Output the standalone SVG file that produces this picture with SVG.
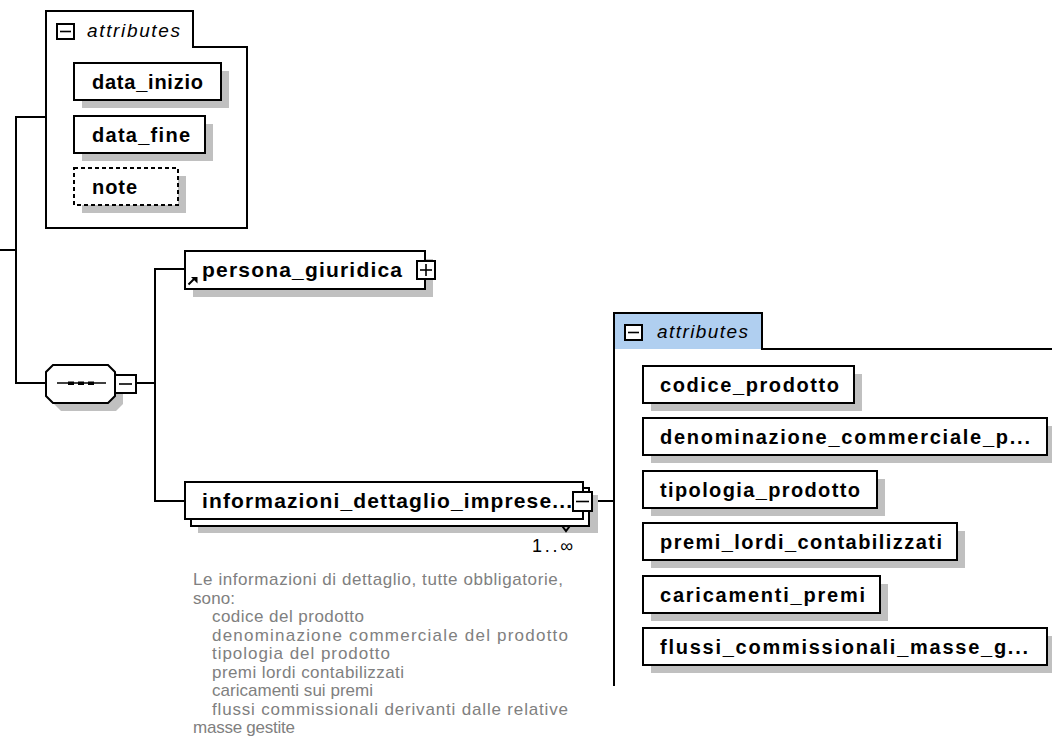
<svg xmlns="http://www.w3.org/2000/svg" width="1052" height="751" viewBox="0 0 1052 751">
<style>
.box{fill:#fff;stroke:#000;stroke-width:2}
.dash{fill:#fff;stroke:#000;stroke-width:2;stroke-dasharray:4,3}
.sh{fill:#c0c0c0;stroke:none}
.ln{fill:none;stroke:#000;stroke-width:2}
.lbl{font-family:"Liberation Sans",Arial,sans-serif;font-weight:bold;font-size:20px;fill:#000}
.el{font-family:"Liberation Sans",Arial,sans-serif;font-weight:bold;font-size:21px;fill:#000}
.tab{font-family:"Liberation Sans",Arial,sans-serif;font-style:italic;font-size:19px;fill:#000}
.desc{font-family:"Liberation Sans",Arial,sans-serif;font-size:17px;fill:#808080}
.occ{font-family:"Liberation Sans",Arial,sans-serif;font-size:18px;fill:#000}
</style>
<rect width="1052" height="751" fill="#fff"/>

<g id="connectors">
<polyline class="ln" points="0,250 16,250"/>
<polyline class="ln" points="46,117 16,117 16,383 46,383"/>
<polyline class="ln" points="136,383 155,383"/>
<polyline class="ln" points="185,269 155,269 155,501 185,501"/>
<polyline class="ln" points="592,501 614,501"/>
</g>

<g id="attributes-top">
<path class="box" d="M46,228 V11 H193 V47 H247 V228 Z"/>
<rect class="box" x="57" y="24" width="17" height="15" stroke-width="1.6"/>
<line x1="60" y1="31.5" x2="71" y2="31.5" stroke="#000" stroke-width="1.6"/>
<text class="tab" x="87" y="37" textLength="93">attributes</text>
</g>

<g id="data_inizio">
<rect class="sh" x="82" y="71" width="147" height="37"/>
<rect class="box" x="74" y="63" width="147" height="37"/>
<text class="lbl" x="92" y="89" textLength="111">data_inizio</text>
</g>
<g id="data_fine">
<rect class="sh" x="82" y="124" width="131" height="37"/>
<rect class="box" x="74" y="116" width="131" height="37"/>
<text class="lbl" x="92" y="142" textLength="98">data_fine</text>
</g>
<g id="note">
<rect class="sh" x="82" y="176" width="104" height="37"/>
<rect class="dash" x="74" y="168" width="104" height="37"/>
<text class="lbl" x="92" y="194" textLength="45">note</text>
</g>

<g id="sequence">
<polygon class="sh" points="61,373 116,373 123,380 123,404 116,411 61,411 54,404 54,380"/>
<polygon class="box" points="53,365 108,365 115,372 115,396 108,403 53,403 46,396 46,372"/>
<line x1="57" y1="383" x2="106" y2="383" stroke="#000" stroke-width="1.6"/>
<rect x="68" y="381.5" width="6" height="3.5" fill="#000"/>
<rect x="78" y="381.5" width="6" height="3.5" fill="#000"/>
<rect x="88" y="381.5" width="6" height="3.5" fill="#000"/>
<rect class="box" x="115" y="375" width="21" height="18" stroke-width="1.6"/>
<line x1="119" y1="384" x2="132" y2="384" stroke="#000" stroke-width="1.6"/>
</g>

<g id="persona_giuridica">
<rect class="sh" x="193" y="259" width="240" height="38"/>
<rect class="box" x="185" y="251" width="240" height="38"/>
<line x1="188.5" y1="284.5" x2="194" y2="279" stroke="#000" stroke-width="2"/>
<polygon points="191,277 197.5,277 197.5,283.5" fill="#000"/>
<text class="el" x="202" y="277" textLength="200">persona_giuridica</text>
<rect class="box" x="417" y="261" width="18" height="18" stroke-width="1.6"/>
<line x1="420" y1="270" x2="432" y2="270" stroke="#000" stroke-width="1.6"/>
<line x1="426" y1="264" x2="426" y2="276" stroke="#000" stroke-width="1.6"/>
</g>

<g id="informazioni_dettaglio_imprese">
<rect class="sh" x="198" y="495" width="400" height="38"/>
<polyline class="ln" points="557,519 566,531 575,519"/>
<rect class="box" x="191" y="488" width="398" height="38"/>
<rect class="box" x="185" y="482" width="398" height="37"/>
<text class="el" x="202" y="508" textLength="370">informazioni_dettaglio_imprese...</text>
<rect class="box" x="573" y="492" width="19" height="19" stroke-width="1.6"/>
<line x1="576" y1="501.5" x2="589" y2="501.5" stroke="#000" stroke-width="1.6"/>
<text class="occ" x="532" y="552" textLength="41">1..∞</text>
</g>

<g id="annotation">
<text class="desc" x="193" y="585" textLength="370">Le informazioni di dettaglio, tutte obbligatorie,</text>
<text class="desc" x="193" y="603.5" textLength="42">sono:</text>
<text class="desc" x="212" y="622" textLength="152">codice del prodotto</text>
<text class="desc" x="212" y="640.5" textLength="356">denominazione commerciale del prodotto</text>
<text class="desc" x="212" y="659" textLength="178">tipologia del prodotto</text>
<text class="desc" x="212" y="677.5" textLength="192">premi lordi contabilizzati</text>
<text class="desc" x="212" y="696" textLength="161">caricamenti sui premi</text>
<text class="desc" x="212" y="714.5" textLength="356">flussi commissionali derivanti dalle relative</text>
<text class="desc" x="193" y="733" textLength="102">masse gestite</text>
</g>

<g id="attributes-right">
<path d="M614,349 V313 H762 V349 Z" fill="#b0cff0"/>
<path class="ln" d="M614,686 V313 H762 V349 H1052"/>
<rect class="box" x="625" y="325" width="17" height="15" stroke-width="1.6"/>
<line x1="628" y1="332.5" x2="639" y2="332.5" stroke="#000" stroke-width="1.6"/>
<text class="tab" x="657" y="338" textLength="91">attributes</text>
</g>

<g id="codice_prodotto">
<rect class="sh" x="651" y="374" width="211" height="37"/>
<rect class="box" x="643" y="366" width="211" height="37"/>
<text class="lbl" x="660" y="392" textLength="179">codice_prodotto</text>
</g>
<g id="denominazione_commerciale_prodotto">
<rect class="sh" x="651" y="426" width="404" height="37"/>
<rect class="box" x="643" y="418" width="404" height="37"/>
<text class="lbl" x="660" y="444" textLength="370">denominazione_commerciale_p...</text>
</g>
<g id="tipologia_prodotto">
<rect class="sh" x="651" y="479" width="234" height="37"/>
<rect class="box" x="643" y="471" width="234" height="37"/>
<text class="lbl" x="660" y="497" textLength="200">tipologia_prodotto</text>
</g>
<g id="premi_lordi_contabilizzati">
<rect class="sh" x="651" y="531" width="314" height="37"/>
<rect class="box" x="643" y="523" width="314" height="37"/>
<text class="lbl" x="660" y="549" textLength="282">premi_lordi_contabilizzati</text>
</g>
<g id="caricamenti_premi">
<rect class="sh" x="651" y="584" width="237" height="37"/>
<rect class="box" x="643" y="576" width="237" height="37"/>
<text class="lbl" x="660" y="602" textLength="205">caricamenti_premi</text>
</g>
<g id="flussi_commissionali_masse_gestite">
<rect class="sh" x="651" y="636" width="404" height="37"/>
<rect class="box" x="643" y="628" width="404" height="37"/>
<text class="lbl" x="660" y="654" textLength="368">flussi_commissionali_masse_g...</text>
</g>
</svg>
